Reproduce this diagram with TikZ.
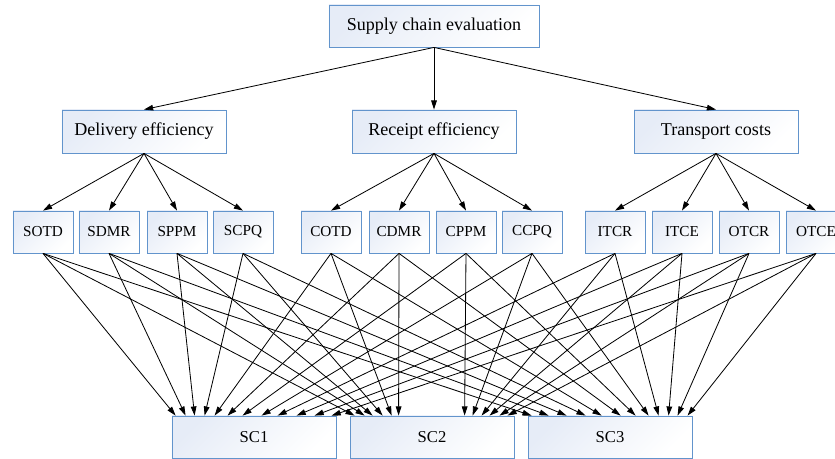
\documentclass[tikz,border=0pt]{standalone}
\usepackage{fontspec}
\setmainfont{Liberation Serif}
\usepackage{tikz}
\usetikzlibrary{arrows.meta}
\definecolor{boxblue}{RGB}{98,148,204}
\definecolor{boxshade}{RGB}{230,236,247}

\begin{document}
\begin{tikzpicture}[
    x=0.03cm, y=-0.03cm,
    critbox/.style={
        rectangle, draw=boxblue, line width=0.7pt,
        left color=boxshade, right color=white,
        shading angle=45,
        inner sep=0pt, text centered,
        minimum height=1.26cm
    },
    goalbox/.style={critbox, minimum width=6.3cm,
        font=\fontsize{15.4}{18}\selectfont},
    mainbox/.style={critbox, minimum width=4.92cm,
        minimum height=1.29cm,
        font=\fontsize{15.4}{18}\selectfont},
    subbox/.style={critbox, minimum width=1.8cm,
        font=\fontsize{13}{15}\selectfont},
    altbox/.style={critbox, minimum width=4.92cm,
        font=\fontsize{14.2}{17}\selectfont},
    arr/.style={-{Triangle[length=7.8pt,width=4.8pt]},
        line width=0.7pt}
]
\useasboundingbox (0,0) rectangle (835,459);

% goal
\node[goalbox] (goal) at (434,26) {Supply chain evaluation};

% criteria
\node[mainbox] (del) at (144,131.5) {Delivery efficiency};
\node[mainbox] (rec) at (434,131.5) {Receipt efficiency};
\node[mainbox] (tra) at (716,131.5) {Transport costs};

% sub-criteria
\node[subbox] (sotd) at (43,232)  {SOTD};
\node[subbox] (sdmr) at (109,232) {SDMR};
\node[subbox] (sppm) at (177,232) {SPPM};
\node[subbox] (scpq) at (243,232) {SCPQ};
\node[subbox] (cotd) at (331,232) {COTD};
\node[subbox] (cdmr) at (399,232) {CDMR};
\node[subbox] (cppm) at (466,232) {CPPM};
\node[subbox] (ccpq) at (532,232) {CCPQ};
\node[subbox] (itcr) at (615,232) {ITCR};
\node[subbox] (itce) at (682,232) {ITCE};
\node[subbox] (otcr) at (749,232) {OTCR};
\node[subbox] (otce) at (816,232) {OTCE};

% alternatives
\node[altbox] (sc1) at (254,437) {SC1};
\node[altbox] (sc2) at (432,437) {SC2};
\node[altbox] (sc3) at (610,437) {SC3};

\foreach \a/\b in {goal/del,goal/rec,goal/tra,
                   del/sotd,del/sdmr,del/sppm,del/scpq,
                   rec/cotd,rec/cdmr,rec/cppm,rec/ccpq,
                   tra/itcr,tra/itce,tra/otcr,tra/otce}{
    \draw[arr] (\a.south) -- (\b.north);
}

% every sub-criterion to every alternative
\foreach \s/\p/\q/\r in {sotd/4/5/4, sdmr/14/15/21,
                         sppm/23/23/39, scpq/33/33/58,
                         cotd/43/42/74, cdmr/56/49/93,
                         cppm/71/115/108, ccpq/90/123/121,
                         itcr/106/132/131, itce/125/140/141,
                         otcr/143/150/150, otce/160/158/160}{
    \draw[arr] (\s.south) -- ([xshift=\p*0.03cm]sc1.north west);
    \draw[arr] (\s.south) -- ([xshift=\q*0.03cm]sc2.north west);
    \draw[arr] (\s.south) -- ([xshift=\r*0.03cm]sc3.north west);
}
\end{tikzpicture}
\end{document}
